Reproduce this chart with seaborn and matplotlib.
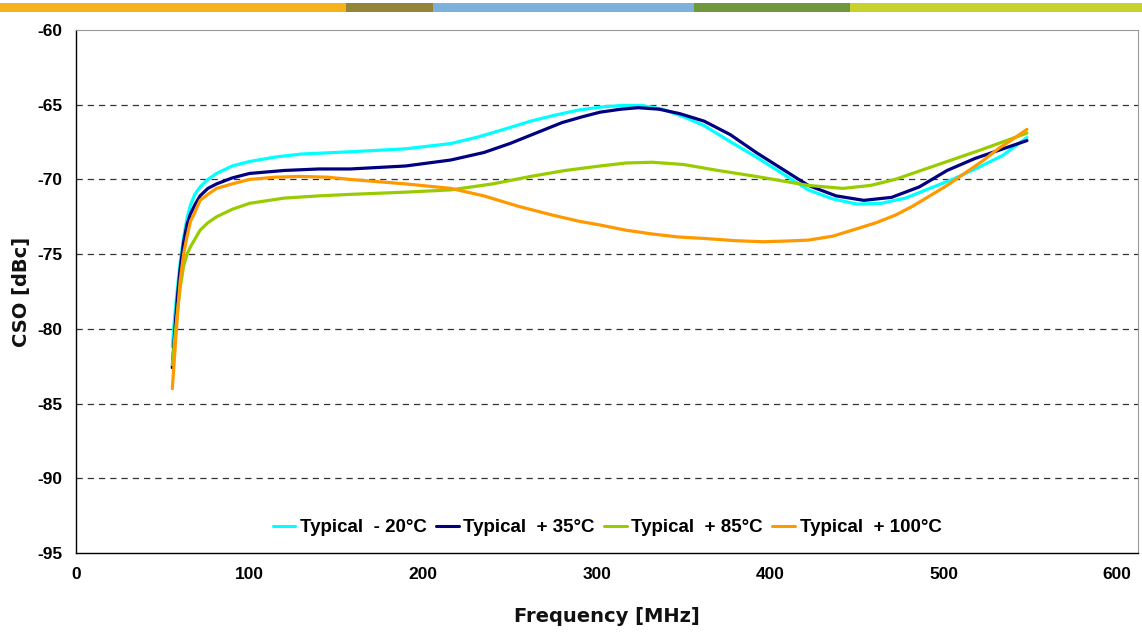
import matplotlib
matplotlib.use("Agg")
import matplotlib.pyplot as plt
import numpy as np
import seaborn as sns
import pandas as pd

# values
freq_m20 = [55.5, 57, 58.5, 60, 62, 64, 66, 68.5, 71.5, 76, 81, 90, 100, 115, 130, 158, 190, 216,
            232, 248, 262, 276, 290, 303, 315, 326, 338, 350, 362, 376, 392, 407, 422, 436, 450,
            464, 478, 492, 505, 520, 534, 548]
cso_m20 = [-81.2, -79.0, -77.2, -75.6, -73.9, -72.6, -71.7, -71.0, -70.5, -70.0, -69.6, -69.1, -68.8,
           -68.5, -68.3, -68.15, -67.95, -67.6, -67.15, -66.6, -66.1, -65.7, -65.35, -65.15, -65.05,
           -65.05, -65.3, -65.8, -66.4, -67.4, -68.5, -69.6, -70.7, -71.3, -71.65, -71.6, -71.25,
           -70.6, -70.0, -69.2, -68.4, -67.2]

freq_p35 = [55.5, 57, 58.5, 60, 62, 64, 66, 68.5, 71.5, 76, 81, 90, 100, 120, 140, 158, 190, 216,
            235, 250, 265, 280, 292, 302, 314, 324, 336, 348, 362, 377, 392, 407, 422, 438, 454,
            470, 486, 502, 518, 533, 548]
cso_p35 = [-82.6, -80.0, -77.8, -76.0, -74.2, -73.0, -72.3, -71.7, -71.1, -70.6, -70.3, -69.9, -69.6,
           -69.4, -69.3, -69.3, -69.1, -68.7, -68.2, -67.6, -66.9, -66.2, -65.8, -65.5, -65.3,
           -65.2, -65.3, -65.6, -66.1, -67.0, -68.2, -69.3, -70.4, -71.1, -71.4, -71.2, -70.5,
           -69.4, -68.6, -68.0, -67.4]

freq_p85 = [55.5, 57, 58.5, 60, 62, 64, 66, 68.5, 71.5, 76, 81, 90, 100, 120, 140, 158, 190, 216,
            240, 262, 282, 302, 317, 332, 350, 370, 392, 407, 422, 442, 458, 472, 487, 502, 522, 548]
cso_p85 = [-82.4, -80.5, -78.8, -77.3, -75.8, -75.0, -74.5, -74.0, -73.4, -72.9, -72.5, -72.0, -71.6,
           -71.25, -71.1, -71.0, -70.85, -70.7, -70.3, -69.8, -69.4, -69.1, -68.9, -68.85, -69.0,
           -69.4, -69.8, -70.1, -70.4, -70.6, -70.4, -70.0, -69.4, -68.8, -68.0, -66.9]

freq_p100 = [55.5, 57, 58.5, 60, 62, 64, 66, 68.5, 71.5, 76, 81, 90, 100, 115, 129, 145, 158, 190,
             216, 235, 255, 275, 290, 302, 317, 332, 347, 362, 380, 396, 410, 422, 436, 450, 461,
             472, 482, 492, 502, 512, 522, 532, 540, 548]
cso_p100 = [-84.0, -81.5, -79.0, -76.8, -75.0, -73.8, -72.8, -72.2, -71.4, -71.0, -70.6, -70.3, -70.0,
            -69.85, -69.8, -69.85, -70.0, -70.3, -70.6, -71.1, -71.8, -72.4, -72.8, -73.05, -73.4,
            -73.65, -73.85, -73.95, -74.1, -74.17, -74.12, -74.06, -73.8, -73.3, -72.9, -72.4,
            -71.8, -71.1, -70.4, -69.6, -68.8, -67.9, -67.3, -66.65]

series_labels = ["Typical  - 20°C", "Typical  + 35°C", "Typical  + 85°C", "Typical  + 100°C"]
series_colors = ["#00FFFF", "#000080", "#99CC00", "#FF9900"]

# decorative top strip
strip_colors = ["#F5B21B", "#948438", "#7BB1DB", "#6F973B", "#C6D22E"]
strip_widths = [346, 87, 261, 156, 292]

y_ticks = [-95, -90, -85, -80, -75, -70, -65, -60]
x_ticks = [0, 100, 200, 300, 400, 500, 600]

frames = []
for lab, f, c in zip(series_labels, [freq_m20, freq_p35, freq_p85, freq_p100],
                     [cso_m20, cso_p35, cso_p85, cso_p100]):
    frames.append(pd.DataFrame({"freq": f, "cso": c, "series": lab}))
df = pd.concat(frames, ignore_index=True)

sns.set_style("white")
plt.rcParams["font.family"] = ["Liberation Sans", "DejaVu Sans"]
plt.rcParams["axes.unicode_minus"] = False
plt.rcParams["text.color"] = "black"
plt.rcParams["axes.labelcolor"] = "black"
plt.rcParams["xtick.color"] = "black"
plt.rcParams["ytick.color"] = "black"

fig = plt.figure(figsize=(11.42, 6.35), dpi=100)

# strip
sax = fig.add_axes([0, 1 - 12 / 635, 1, 9 / 635])
sax.barh([0] * len(strip_widths), strip_widths, left=np.cumsum([0] + strip_widths[:-1]),
         color=strip_colors, height=1, edgecolor="none")
sax.set_xlim(0, sum(strip_widths))
sax.set_ylim(-0.5, 0.5)
sax.axis("off")

ax = fig.add_axes([76 / 1142, 1 - 553 / 635, (1138 - 76) / 1142, (553 - 30) / 635])
sns.lineplot(data=df, x="freq", y="cso", hue="series", palette=series_colors,
             hue_order=series_labels, sort=False, estimator=None, linewidth=2.3, ax=ax)

ax.set_xlim(0, 612)
ax.set_ylim(-95, -60)
ax.set_xticks(x_ticks)
ax.set_yticks(y_ticks)
for yv in y_ticks[1:-1]:
    ax.axhline(yv, color="#333333", linestyle=(0, (5, 4)), linewidth=0.9, zorder=0)

ax.tick_params(axis="both", which="major", direction="out", length=4, width=0.8,
               labelsize=12.5, color="black", labelcolor="black", pad=6)
for lbl in ax.get_xticklabels() + ax.get_yticklabels():
    lbl.set_fontweight("bold")

for s in ["left", "bottom"]:
    ax.spines[s].set_color("black")
    ax.spines[s].set_linewidth(1.0)
for s in ["top", "right"]:
    ax.spines[s].set_color("#999999")
    ax.spines[s].set_linewidth(0.8)

ax.set_xlabel("Frequency [MHz]", fontsize=14, fontweight="bold", family="DejaVu Sans",
              labelpad=18, color="#111111")
ax.set_ylabel("CSO [dBc]", fontsize=14, fontweight="bold", family="DejaVu Sans",
              labelpad=4, color="#111111")

leg = ax.legend(loc="lower center", bbox_to_anchor=(0.5, 0.0), ncol=4, frameon=False,
                handlelength=1.2, handletextpad=0.25, columnspacing=0.5,
                prop={"weight": "bold", "size": 13.5})
for h in leg.get_lines():
    h.set_linewidth(2.2)
for t in leg.get_texts():
    t.set_color("black")

fig.savefig("out.png", dpi=100)
